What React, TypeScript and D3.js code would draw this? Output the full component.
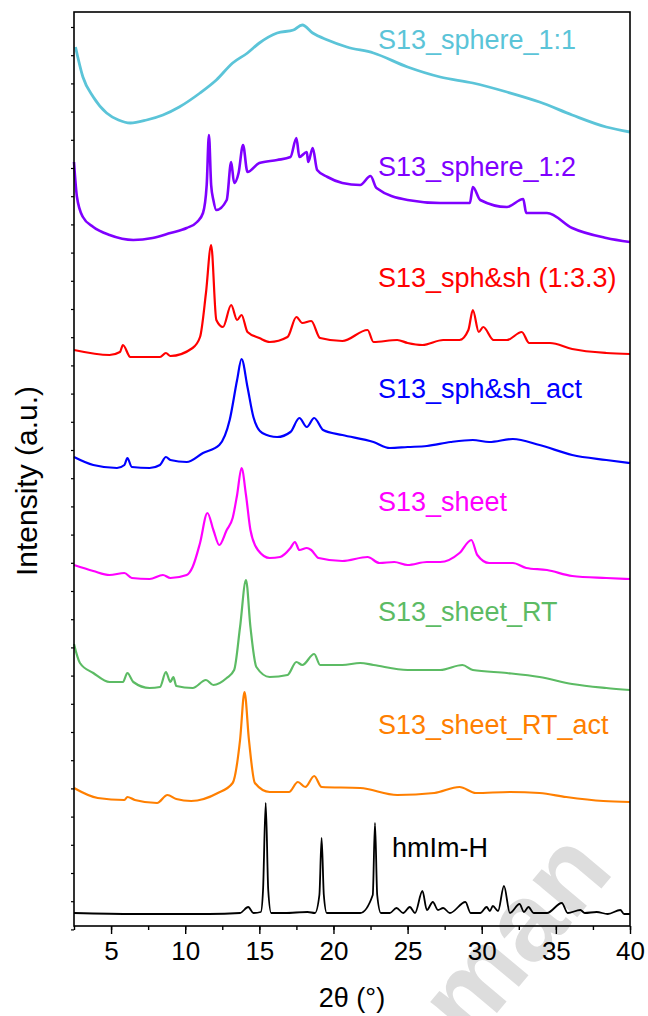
import React, { useEffect, useRef } from 'react';
import * as d3 from 'd3';

// stacked XRD patterns, intensities (arbitrary units, offsets included)

const X_TICKS = [5, 10, 15, 20, 25, 30, 35, 40];

const sphere11: [number, number][] = [
  [2.6, 881], [3.1, 851], [3.8, 831], [4.7, 815], [5.5, 808], [6.3, 805], [7.4, 808], [8.5, 813],
  [9.6, 821], [11, 835], [12.1, 848], [13.2, 865], [14.2, 875], [15, 885], [16.2, 895], [17.3, 898],
  [17.9, 903], [18.6, 895], [19.6, 888], [20.9, 881], [22.7, 875], [25, 861], [27.2, 851], [29.4, 845],
  [31.7, 836], [33.9, 826], [36.1, 813], [38.4, 801], [40, 796],
];

const sphere12: [number, number][] = [
  [2.5, 766], [2.7, 731], [3.1, 711], [3.8, 701], [4.9, 693], [6.5, 688], [7.8, 690], [9.0, 695],
  [10.1, 700], [10.8, 706], [11.2, 715], [11.45, 743], [11.6, 793], [11.75, 743], [11.9, 728], [12.1, 718],
  [12.8, 728], [13.1, 766], [13.3, 745], [13.6, 755], [13.9, 783], [14.2, 756], [15.0, 765], [16.2, 768],
  [17.1, 771], [17.5, 790], [17.7, 771], [18.2, 776], [18.3, 766], [18.6, 780], [18.9, 758], [19.6, 751],
  [20.6, 745], [21.8, 743], [22.5, 752], [22.9, 740], [25.0, 728], [27.2, 725], [29.2, 725], [29.4, 741],
  [29.9, 728], [31.7, 721], [32.8, 729], [33.0, 715], [34.4, 715], [36.1, 700], [38.4, 690], [40.0, 686],
];

const sphSh: [number, number][] = [
  [2.5, 578], [4.9, 573], [5.6, 576], [5.8, 583], [6.3, 571], [8.3, 571], [8.7, 575], [9.0, 572],
  [10.5, 580], [11.0, 591], [11.4, 635], [11.75, 683], [12.1, 608], [12.55, 601], [13.1, 623], [13.5, 608],
  [13.8, 613], [14.2, 596], [15.0, 590], [15.7, 586], [16.9, 591], [17.5, 611], [17.9, 605], [18.5, 607],
  [19.1, 590], [20.6, 587], [22.3, 598], [22.7, 586], [24.3, 588], [25.0, 585], [26.0, 583], [27.4, 588],
  [28.5, 588], [29.1, 598], [29.4, 618], [29.8, 596], [30.1, 601], [30.8, 588], [31.7, 588], [32.7, 596],
  [33.2, 585], [34.6, 585], [36.1, 579], [38.4, 575], [40.0, 574],
];

const sphShAct: [number, number][] = [
  [2.5, 471], [3.8, 463], [5.4, 460], [5.9, 463], [6.1, 470], [6.4, 461], [7.6, 460], [8.3, 463],
  [8.7, 471], [9.0, 468], [10.1, 466], [11.2, 475], [12.3, 483], [13.0, 508], [13.5, 548], [13.8, 569],
  [14.2, 541], [14.6, 511], [15.2, 495], [16.2, 491], [17.1, 496], [17.7, 510], [18.2, 501], [18.7, 510],
  [19.3, 498], [20.6, 493], [22.7, 486], [23.8, 480], [25.0, 481], [26.3, 482], [27.9, 486], [29.4, 488],
  [30.5, 486], [32.1, 489], [33.9, 483], [36.1, 473], [38.4, 468], [40.0, 465],
];

const sheet: [number, number][] = [
  [2.5, 363], [3.8, 357], [4.9, 353], [5.9, 355], [6.4, 350], [7.6, 349], [8.5, 353], [9.0, 350],
  [10.1, 353], [10.5, 361], [11.0, 385], [11.5, 415], [11.9, 398], [12.3, 383], [12.8, 398], [13.2, 410],
  [13.5, 433], [13.8, 460], [14.1, 433], [14.4, 398], [14.9, 378], [15.7, 370], [16.4, 371], [17.1, 380],
  [17.4, 386], [17.7, 378], [18.2, 380], [18.5, 378], [19.0, 370], [20.6, 367], [22.3, 371], [23.1, 365],
  [24.1, 366], [25.0, 363], [26.3, 366], [27.2, 366], [28.5, 375], [29.3, 388], [29.7, 373], [30.5, 365],
  [32.1, 365], [33.0, 360], [34.4, 358], [36.1, 352], [38.4, 350], [40.0, 349],
];

const sheetRT: [number, number][] = [
  [2.5, 284], [2.9, 265], [3.8, 255], [4.9, 246], [5.8, 246], [6.1, 255], [6.5, 246], [7.6, 240],
  [8.3, 241], [8.7, 256], [9.0, 246], [9.2, 251], [9.4, 242], [10.5, 240], [11.4, 248], [11.9, 243],
  [12.8, 250], [13.3, 258], [13.7, 301], [14.1, 348], [14.4, 301], [14.8, 261], [15.7, 251], [16.9, 253],
  [17.5, 266], [17.9, 263], [18.7, 274], [19.1, 263], [20.6, 263], [21.8, 265], [22.7, 263], [25.0, 258],
  [27.2, 258], [28.7, 263], [29.4, 258], [31.7, 255], [33.9, 251], [36.1, 244], [38.4, 240], [40.0, 238],
];

const sheetRTAct: [number, number][] = [
  [2.5, 140], [4.1, 130], [5.9, 128], [6.1, 131], [6.6, 128], [8.1, 125], [8.8, 133], [9.4, 129],
  [10.4, 127], [12.2, 135], [13.2, 145], [13.7, 188], [14.0, 236], [14.3, 188], [14.7, 145], [15.7, 136],
  [17.0, 136], [17.6, 146], [18.1, 141], [18.7, 152], [19.2, 141], [21.8, 140], [24.3, 133], [26.8, 135],
  [28.5, 141], [29.6, 135], [31.9, 136], [33.9, 135], [35.7, 131], [38.2, 127], [40.0, 126],
];

const hmImH: [number, number][] = [
  [2.5, 15], [6.6, 14], [11.6, 14], [13.7, 15], [14.25, 21], [14.6, 15], [15.1, 16], [15.25, 38],
  [15.43, 125], [15.6, 38], [15.8, 15], [16.7, 15], [18.25, 16], [18.75, 15], [19.05, 33], [19.2, 90],
  [19.35, 33], [19.55, 15], [21.8, 15], [22.65, 33], [22.8, 105], [22.95, 33], [23.2, 15], [23.8, 15],
  [24.25, 20], [24.7, 15], [25.15, 21], [25.5, 15], [26.0, 37], [26.3, 18], [26.7, 26], [27.05, 18],
  [27.4, 20], [27.85, 15], [28.9, 26], [29.25, 15], [29.9, 15], [30.33, 21], [30.55, 17], [30.75, 22],
  [31.1, 17], [31.5, 42], [31.9, 15], [32.55, 24], [32.85, 16], [33.15, 21], [33.5, 15], [34.4, 15],
  [35.4, 25], [35.8, 15], [36.65, 18], [36.95, 15], [37.75, 16], [38.5, 14], [39.35, 18], [39.6, 14],
  [40, 14],
];

const SERIES = [
  { name: 'S13_sphere_1:1', data: sphere11, color: '#5bc4d8', sw: 2.8, label: [23, 879] },
  { name: 'S13_sphere_1:2', data: sphere12, color: '#7f00ff', sw: 2.6, label: [23, 752] },
  { name: 'S13_sph&sh (1:3.3)', data: sphSh, color: '#ff0000', sw: 2.2, label: [23, 641] },
  { name: 'S13_sph&sh_act', data: sphShAct, color: '#0000ff', sw: 2.2, label: [23, 530] },
  { name: 'S13_sheet', data: sheet, color: '#ff00ff', sw: 2.2, label: [23, 417] },
  { name: 'S13_sheet_RT', data: sheetRT, color: '#5cbb64', sw: 2.2, label: [23, 307] },
  { name: 'S13_sheet_RT_act', data: sheetRTAct, color: '#ff7f00', sw: 2.2, label: [23, 194] },
  { name: 'hmIm-H', data: hmImH, color: '#000000', sw: 1.8, label: [23.95, 71] },
];

const App = () => {
  const svgRef = useRef<SVGSVGElement>(null);

  useEffect(() => {
    if (!svgRef.current) return;
    const svg = d3.select(svgRef.current);
    svg.selectAll('*').remove();

    const width = 648;
    const height = 1016;
    const margin = { top: 12, right: 18, bottom: 90, left: 74 };
    const font = 'Arial, "Liberation Sans", sans-serif';

    const x = d3.scaleLinear().domain([2.5, 40]).range([margin.left, width - margin.right]);
    const y = d3.scaleLinear().domain([2, 916]).range([height - margin.bottom, margin.top]);

    svg.attr('width', width).attr('height', height);
    svg.append('rect').attr('width', width).attr('height', height).attr('fill', '#fff');

    // faint watermark in the lower right corner
    svg.append('text')
      .attr('transform', 'translate(470,1045) rotate(-50)')
      .attr('font-family', font)
      .attr('font-weight', 'bold')
      .attr('font-size', 110)
      .attr('fill', '#dddddd')
      .text('man');

    const line = d3.line<[number, number]>()
      .x(d => x(d[0]))
      .y(d => y(d[1]))
      .curve(d3.curveMonotoneX);

    svg.append('g')
      .selectAll('path')
      .data(SERIES)
      .join('path')
      .attr('d', d => line(d.data))
      .attr('fill', 'none')
      .attr('stroke', d => d.color)
      .attr('stroke-width', d => d.sw)
      .attr('stroke-linejoin', 'round');

    svg.append('g')
      .selectAll('text')
      .data(SERIES)
      .join('text')
      .attr('x', d => x(d.label[0]))
      .attr('y', d => y(d.label[1]))
      .attr('font-family', font)
      .attr('font-size', 27)
      .attr('fill', d => d.color)
      .text(d => d.name);

    // frame
    svg.append('rect')
      .attr('x', x(2.5))
      .attr('y', y(916))
      .attr('width', x(40) - x(2.5))
      .attr('height', y(2) - y(916))
      .attr('fill', 'none')
      .attr('stroke', '#000')
      .attr('stroke-width', 1.6);

    // x axis, major + minor ticks
    const xAxis = svg.append('g').attr('transform', `translate(0,${y(2)})`);
    xAxis.call(d3.axisBottom(x).tickValues(d3.range(2.5, 40.01, 2.5)).tickSize(4).tickFormat(() => ''))
      .call(g => g.select('.domain').remove())
      .selectAll('line').attr('stroke-width', 1.4);
    const xMajor = svg.append('g').attr('transform', `translate(0,${y(2)})`);
    xMajor.call(d3.axisBottom(x).tickValues(X_TICKS).tickSize(8).tickPadding(8).tickFormat(d => String(d)))
      .call(g => g.select('.domain').remove());
    xMajor.selectAll('line').attr('stroke-width', 1.4);
    xMajor.selectAll('text')
      .attr('font-family', font)
      .attr('font-size', 26)
      .attr('fill', '#000');

    // y axis, unlabeled small ticks
    const yTicks = d3.range(0, 33).map(k => y.invert(margin.top + 15 + 28.2 * k));
    svg.append('g')
      .attr('transform', `translate(${x(2.5)},0)`)
      .call(d3.axisLeft(y).tickValues(yTicks).tickSize(3).tickFormat(() => ''))
      .call(g => g.select('.domain').remove())
      .selectAll('line').attr('stroke-width', 1.2);

    svg.append('text')
      .attr('x', (x(2.5) + x(40)) / 2)
      .attr('y', 1007)
      .attr('text-anchor', 'middle')
      .attr('font-family', font)
      .attr('font-size', 27)
      .text('2θ (°)');

    svg.append('text')
      .attr('transform', `translate(37,${(y(2) + y(916)) / 2 + 12}) rotate(-90)`)
      .attr('text-anchor', 'middle')
      .attr('font-family', font)
      .attr('font-size', 30)
      .text('Intensity (a.u.)');
  }, []);

  return (
    <svg ref={svgRef} style={{ position: 'absolute', left: 0, top: 0 }}></svg>
  );
};

export default App;
